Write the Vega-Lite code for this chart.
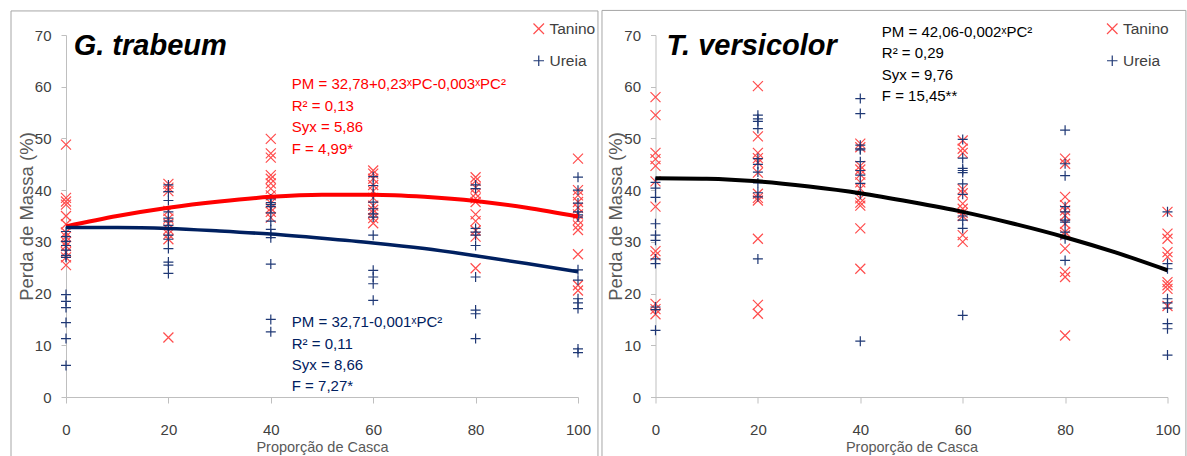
{
"$schema": "https://vega.github.io/schema/vega-lite/v6.json",
"padding": {"left": 10, "top": 9, "right": 0, "bottom": 0},
"background": "white",
"spacing": 77.5,
"bounds": "flush",
"datasets": {
"pontos": [
{"painel":"G. trabeum","pc":0,"tratamento":"Tanino","pm":48.8},{"painel":"G. trabeum","pc":0,"tratamento":"Tanino","pm":38.5},{"painel":"G. trabeum","pc":0,"tratamento":"Tanino","pm":37.8},{"painel":"G. trabeum","pc":0,"tratamento":"Tanino","pm":37.2},{"painel":"G. trabeum","pc":0,"tratamento":"Tanino","pm":35.0},{"painel":"G. trabeum","pc":0,"tratamento":"Tanino","pm":33.4},{"painel":"G. trabeum","pc":0,"tratamento":"Tanino","pm":31.8},{"painel":"G. trabeum","pc":0,"tratamento":"Tanino","pm":31.0},{"painel":"G. trabeum","pc":0,"tratamento":"Tanino","pm":30.0},{"painel":"G. trabeum","pc":0,"tratamento":"Tanino","pm":29.2},{"painel":"G. trabeum","pc":0,"tratamento":"Tanino","pm":28.0},{"painel":"G. trabeum","pc":0,"tratamento":"Tanino","pm":27.0},{"painel":"G. trabeum","pc":0,"tratamento":"Tanino","pm":25.5},
{"painel":"G. trabeum","pc":0,"tratamento":"Ureia","pm":32.0},{"painel":"G. trabeum","pc":0,"tratamento":"Ureia","pm":31.0},{"painel":"G. trabeum","pc":0,"tratamento":"Ureia","pm":30.1},{"painel":"G. trabeum","pc":0,"tratamento":"Ureia","pm":29.3},{"painel":"G. trabeum","pc":0,"tratamento":"Ureia","pm":28.4},{"painel":"G. trabeum","pc":0,"tratamento":"Ureia","pm":27.4},{"painel":"G. trabeum","pc":0,"tratamento":"Ureia","pm":27.0},{"painel":"G. trabeum","pc":0,"tratamento":"Ureia","pm":19.8},{"painel":"G. trabeum","pc":0,"tratamento":"Ureia","pm":18.5},{"painel":"G. trabeum","pc":0,"tratamento":"Ureia","pm":17.3},{"painel":"G. trabeum","pc":0,"tratamento":"Ureia","pm":14.4},{"painel":"G. trabeum","pc":0,"tratamento":"Ureia","pm":11.3},{"painel":"G. trabeum","pc":0,"tratamento":"Ureia","pm":6.1},
{"painel":"G. trabeum","pc":20,"tratamento":"Tanino","pm":41.2},{"painel":"G. trabeum","pc":20,"tratamento":"Tanino","pm":40.5},{"painel":"G. trabeum","pc":20,"tratamento":"Tanino","pm":39.8},{"painel":"G. trabeum","pc":20,"tratamento":"Tanino","pm":36.0},{"painel":"G. trabeum","pc":20,"tratamento":"Tanino","pm":34.5},{"painel":"G. trabeum","pc":20,"tratamento":"Tanino","pm":33.5},{"painel":"G. trabeum","pc":20,"tratamento":"Tanino","pm":32.4},{"painel":"G. trabeum","pc":20,"tratamento":"Tanino","pm":31.5},{"painel":"G. trabeum","pc":20,"tratamento":"Tanino","pm":30.5},{"painel":"G. trabeum","pc":20,"tratamento":"Tanino","pm":11.5},
{"painel":"G. trabeum","pc":20,"tratamento":"Ureia","pm":41.0},{"painel":"G. trabeum","pc":20,"tratamento":"Ureia","pm":39.7},{"painel":"G. trabeum","pc":20,"tratamento":"Ureia","pm":38.0},{"painel":"G. trabeum","pc":20,"tratamento":"Ureia","pm":35.8},{"painel":"G. trabeum","pc":20,"tratamento":"Ureia","pm":34.6},{"painel":"G. trabeum","pc":20,"tratamento":"Ureia","pm":34.0},{"painel":"G. trabeum","pc":20,"tratamento":"Ureia","pm":33.2},{"painel":"G. trabeum","pc":20,"tratamento":"Ureia","pm":32.6},{"painel":"G. trabeum","pc":20,"tratamento":"Ureia","pm":31.3},{"painel":"G. trabeum","pc":20,"tratamento":"Ureia","pm":30.5},{"painel":"G. trabeum","pc":20,"tratamento":"Ureia","pm":28.7},{"painel":"G. trabeum","pc":20,"tratamento":"Ureia","pm":26.1},{"painel":"G. trabeum","pc":20,"tratamento":"Ureia","pm":25.5},{"painel":"G. trabeum","pc":20,"tratamento":"Ureia","pm":23.9},
{"painel":"G. trabeum","pc":40,"tratamento":"Tanino","pm":49.9},{"painel":"G. trabeum","pc":40,"tratamento":"Tanino","pm":47.1},{"painel":"G. trabeum","pc":40,"tratamento":"Tanino","pm":46.3},{"painel":"G. trabeum","pc":40,"tratamento":"Tanino","pm":42.9},{"painel":"G. trabeum","pc":40,"tratamento":"Tanino","pm":42.2},{"painel":"G. trabeum","pc":40,"tratamento":"Tanino","pm":41.3},{"painel":"G. trabeum","pc":40,"tratamento":"Tanino","pm":40.3},{"painel":"G. trabeum","pc":40,"tratamento":"Tanino","pm":39.0},{"painel":"G. trabeum","pc":40,"tratamento":"Tanino","pm":37.5},{"painel":"G. trabeum","pc":40,"tratamento":"Tanino","pm":36.5},{"painel":"G. trabeum","pc":40,"tratamento":"Tanino","pm":35.8},{"painel":"G. trabeum","pc":40,"tratamento":"Tanino","pm":34.7},
{"painel":"G. trabeum","pc":40,"tratamento":"Ureia","pm":38.3},{"painel":"G. trabeum","pc":40,"tratamento":"Ureia","pm":37.6},{"painel":"G. trabeum","pc":40,"tratamento":"Ureia","pm":37.2},{"painel":"G. trabeum","pc":40,"tratamento":"Ureia","pm":36.8},{"painel":"G. trabeum","pc":40,"tratamento":"Ureia","pm":35.6},{"painel":"G. trabeum","pc":40,"tratamento":"Ureia","pm":34.0},{"painel":"G. trabeum","pc":40,"tratamento":"Ureia","pm":32.4},{"painel":"G. trabeum","pc":40,"tratamento":"Ureia","pm":31.5},{"painel":"G. trabeum","pc":40,"tratamento":"Ureia","pm":30.8},{"painel":"G. trabeum","pc":40,"tratamento":"Ureia","pm":25.7},{"painel":"G. trabeum","pc":40,"tratamento":"Ureia","pm":15.0},{"painel":"G. trabeum","pc":40,"tratamento":"Ureia","pm":12.6},
{"painel":"G. trabeum","pc":60,"tratamento":"Tanino","pm":43.8},{"painel":"G. trabeum","pc":60,"tratamento":"Tanino","pm":43.2},{"painel":"G. trabeum","pc":60,"tratamento":"Tanino","pm":42.2},{"painel":"G. trabeum","pc":60,"tratamento":"Tanino","pm":41.0},{"painel":"G. trabeum","pc":60,"tratamento":"Tanino","pm":39.8},{"painel":"G. trabeum","pc":60,"tratamento":"Tanino","pm":38.5},{"painel":"G. trabeum","pc":60,"tratamento":"Tanino","pm":37.0},{"painel":"G. trabeum","pc":60,"tratamento":"Tanino","pm":36.2},{"painel":"G. trabeum","pc":60,"tratamento":"Tanino","pm":35.6},{"painel":"G. trabeum","pc":60,"tratamento":"Tanino","pm":34.6},{"painel":"G. trabeum","pc":60,"tratamento":"Tanino","pm":33.6},
{"painel":"G. trabeum","pc":60,"tratamento":"Ureia","pm":42.6},{"painel":"G. trabeum","pc":60,"tratamento":"Ureia","pm":40.9},{"painel":"G. trabeum","pc":60,"tratamento":"Ureia","pm":39.3},{"painel":"G. trabeum","pc":60,"tratamento":"Ureia","pm":37.7},{"painel":"G. trabeum","pc":60,"tratamento":"Ureia","pm":36.4},{"painel":"G. trabeum","pc":60,"tratamento":"Ureia","pm":35.4},{"painel":"G. trabeum","pc":60,"tratamento":"Ureia","pm":34.8},{"painel":"G. trabeum","pc":60,"tratamento":"Ureia","pm":31.3},{"painel":"G. trabeum","pc":60,"tratamento":"Ureia","pm":24.5},{"painel":"G. trabeum","pc":60,"tratamento":"Ureia","pm":23.2},{"painel":"G. trabeum","pc":60,"tratamento":"Ureia","pm":21.9},{"painel":"G. trabeum","pc":60,"tratamento":"Ureia","pm":18.7},
{"painel":"G. trabeum","pc":80,"tratamento":"Tanino","pm":42.5},{"painel":"G. trabeum","pc":80,"tratamento":"Tanino","pm":41.8},{"painel":"G. trabeum","pc":80,"tratamento":"Tanino","pm":40.5},{"painel":"G. trabeum","pc":80,"tratamento":"Tanino","pm":39.3},{"painel":"G. trabeum","pc":80,"tratamento":"Tanino","pm":38.4},{"painel":"G. trabeum","pc":80,"tratamento":"Tanino","pm":37.7},{"painel":"G. trabeum","pc":80,"tratamento":"Tanino","pm":35.3},{"painel":"G. trabeum","pc":80,"tratamento":"Tanino","pm":34.0},{"painel":"G. trabeum","pc":80,"tratamento":"Tanino","pm":32.2},{"painel":"G. trabeum","pc":80,"tratamento":"Tanino","pm":31.0},{"painel":"G. trabeum","pc":80,"tratamento":"Tanino","pm":24.9},
{"painel":"G. trabeum","pc":80,"tratamento":"Ureia","pm":41.0},{"painel":"G. trabeum","pc":80,"tratamento":"Ureia","pm":40.3},{"painel":"G. trabeum","pc":80,"tratamento":"Ureia","pm":32.6},{"painel":"G. trabeum","pc":80,"tratamento":"Ureia","pm":31.9},{"painel":"G. trabeum","pc":80,"tratamento":"Ureia","pm":31.3},{"painel":"G. trabeum","pc":80,"tratamento":"Ureia","pm":29.3},{"painel":"G. trabeum","pc":80,"tratamento":"Ureia","pm":23.2},{"painel":"G. trabeum","pc":80,"tratamento":"Ureia","pm":16.8},{"painel":"G. trabeum","pc":80,"tratamento":"Ureia","pm":16.1},{"painel":"G. trabeum","pc":80,"tratamento":"Ureia","pm":11.3},
{"painel":"G. trabeum","pc":100,"tratamento":"Tanino","pm":46.1},{"painel":"G. trabeum","pc":100,"tratamento":"Tanino","pm":40.0},{"painel":"G. trabeum","pc":100,"tratamento":"Tanino","pm":39.0},{"painel":"G. trabeum","pc":100,"tratamento":"Tanino","pm":37.7},{"painel":"G. trabeum","pc":100,"tratamento":"Tanino","pm":36.6},{"painel":"G. trabeum","pc":100,"tratamento":"Tanino","pm":35.3},{"painel":"G. trabeum","pc":100,"tratamento":"Tanino","pm":34.2},{"painel":"G. trabeum","pc":100,"tratamento":"Tanino","pm":33.2},{"painel":"G. trabeum","pc":100,"tratamento":"Tanino","pm":32.3},{"painel":"G. trabeum","pc":100,"tratamento":"Tanino","pm":27.6},{"painel":"G. trabeum","pc":100,"tratamento":"Tanino","pm":21.6},{"painel":"G. trabeum","pc":100,"tratamento":"Tanino","pm":20.6},
{"painel":"G. trabeum","pc":100,"tratamento":"Ureia","pm":42.5},{"painel":"G. trabeum","pc":100,"tratamento":"Ureia","pm":40.0},{"painel":"G. trabeum","pc":100,"tratamento":"Ureia","pm":37.5},{"painel":"G. trabeum","pc":100,"tratamento":"Ureia","pm":35.8},{"painel":"G. trabeum","pc":100,"tratamento":"Ureia","pm":35.2},{"painel":"G. trabeum","pc":100,"tratamento":"Ureia","pm":34.8},{"painel":"G. trabeum","pc":100,"tratamento":"Ureia","pm":24.6},{"painel":"G. trabeum","pc":100,"tratamento":"Ureia","pm":22.6},{"painel":"G. trabeum","pc":100,"tratamento":"Ureia","pm":19.0},{"painel":"G. trabeum","pc":100,"tratamento":"Ureia","pm":18.2},{"painel":"G. trabeum","pc":100,"tratamento":"Ureia","pm":17.1},{"painel":"G. trabeum","pc":100,"tratamento":"Ureia","pm":9.3},{"painel":"G. trabeum","pc":100,"tratamento":"Ureia","pm":8.6},
{"painel":"T. versicolor","pc":0,"tratamento":"Tanino","pm":58.0},{"painel":"T. versicolor","pc":0,"tratamento":"Tanino","pm":54.5},{"painel":"T. versicolor","pc":0,"tratamento":"Tanino","pm":47.2},{"painel":"T. versicolor","pc":0,"tratamento":"Tanino","pm":46.0},{"painel":"T. versicolor","pc":0,"tratamento":"Tanino","pm":44.7},{"painel":"T. versicolor","pc":0,"tratamento":"Tanino","pm":41.7},{"painel":"T. versicolor","pc":0,"tratamento":"Tanino","pm":36.8},{"painel":"T. versicolor","pc":0,"tratamento":"Tanino","pm":28.2},{"painel":"T. versicolor","pc":0,"tratamento":"Tanino","pm":27.4},{"painel":"T. versicolor","pc":0,"tratamento":"Tanino","pm":18.0},{"painel":"T. versicolor","pc":0,"tratamento":"Tanino","pm":17.0},{"painel":"T. versicolor","pc":0,"tratamento":"Tanino","pm":16.0},
{"painel":"T. versicolor","pc":0,"tratamento":"Ureia","pm":41.5},{"painel":"T. versicolor","pc":0,"tratamento":"Ureia","pm":40.4},{"painel":"T. versicolor","pc":0,"tratamento":"Ureia","pm":38.6},{"painel":"T. versicolor","pc":0,"tratamento":"Ureia","pm":33.5},{"painel":"T. versicolor","pc":0,"tratamento":"Ureia","pm":31.3},{"painel":"T. versicolor","pc":0,"tratamento":"Ureia","pm":30.3},{"painel":"T. versicolor","pc":0,"tratamento":"Ureia","pm":26.7},{"painel":"T. versicolor","pc":0,"tratamento":"Ureia","pm":25.8},{"painel":"T. versicolor","pc":0,"tratamento":"Ureia","pm":17.4},{"painel":"T. versicolor","pc":0,"tratamento":"Ureia","pm":16.9},{"painel":"T. versicolor","pc":0,"tratamento":"Ureia","pm":12.9},
{"painel":"T. versicolor","pc":20,"tratamento":"Tanino","pm":60.1},{"painel":"T. versicolor","pc":20,"tratamento":"Tanino","pm":50.4},{"painel":"T. versicolor","pc":20,"tratamento":"Tanino","pm":47.2},{"painel":"T. versicolor","pc":20,"tratamento":"Tanino","pm":46.2},{"painel":"T. versicolor","pc":20,"tratamento":"Tanino","pm":45.3},{"painel":"T. versicolor","pc":20,"tratamento":"Tanino","pm":43.4},{"painel":"T. versicolor","pc":20,"tratamento":"Tanino","pm":39.3},{"painel":"T. versicolor","pc":20,"tratamento":"Tanino","pm":38.5},{"painel":"T. versicolor","pc":20,"tratamento":"Tanino","pm":38.0},{"painel":"T. versicolor","pc":20,"tratamento":"Tanino","pm":30.6},{"painel":"T. versicolor","pc":20,"tratamento":"Tanino","pm":17.8},{"painel":"T. versicolor","pc":20,"tratamento":"Tanino","pm":16.1},
{"painel":"T. versicolor","pc":20,"tratamento":"Ureia","pm":54.5},{"painel":"T. versicolor","pc":20,"tratamento":"Ureia","pm":53.8},{"painel":"T. versicolor","pc":20,"tratamento":"Ureia","pm":53.3},{"painel":"T. versicolor","pc":20,"tratamento":"Ureia","pm":51.9},{"painel":"T. versicolor","pc":20,"tratamento":"Ureia","pm":46.1},{"painel":"T. versicolor","pc":20,"tratamento":"Ureia","pm":45.0},{"painel":"T. versicolor","pc":20,"tratamento":"Ureia","pm":43.5},{"painel":"T. versicolor","pc":20,"tratamento":"Ureia","pm":41.4},{"painel":"T. versicolor","pc":20,"tratamento":"Ureia","pm":39.5},{"painel":"T. versicolor","pc":20,"tratamento":"Ureia","pm":38.7},{"painel":"T. versicolor","pc":20,"tratamento":"Ureia","pm":26.7},
{"painel":"T. versicolor","pc":40,"tratamento":"Tanino","pm":49.0},{"painel":"T. versicolor","pc":40,"tratamento":"Tanino","pm":48.3},{"painel":"T. versicolor","pc":40,"tratamento":"Tanino","pm":44.7},{"painel":"T. versicolor","pc":40,"tratamento":"Tanino","pm":44.0},{"painel":"T. versicolor","pc":40,"tratamento":"Tanino","pm":43.0},{"painel":"T. versicolor","pc":40,"tratamento":"Tanino","pm":41.5},{"painel":"T. versicolor","pc":40,"tratamento":"Tanino","pm":40.3},{"painel":"T. versicolor","pc":40,"tratamento":"Tanino","pm":38.4},{"painel":"T. versicolor","pc":40,"tratamento":"Tanino","pm":37.6},{"painel":"T. versicolor","pc":40,"tratamento":"Tanino","pm":37.0},{"painel":"T. versicolor","pc":40,"tratamento":"Tanino","pm":32.6},{"painel":"T. versicolor","pc":40,"tratamento":"Tanino","pm":24.8},
{"painel":"T. versicolor","pc":40,"tratamento":"Ureia","pm":57.7},{"painel":"T. versicolor","pc":40,"tratamento":"Ureia","pm":54.8},{"painel":"T. versicolor","pc":40,"tratamento":"Ureia","pm":48.7},{"painel":"T. versicolor","pc":40,"tratamento":"Ureia","pm":48.0},{"painel":"T. versicolor","pc":40,"tratamento":"Ureia","pm":47.8},{"painel":"T. versicolor","pc":40,"tratamento":"Ureia","pm":45.5},{"painel":"T. versicolor","pc":40,"tratamento":"Ureia","pm":43.8},{"painel":"T. versicolor","pc":40,"tratamento":"Ureia","pm":42.9},{"painel":"T. versicolor","pc":40,"tratamento":"Ureia","pm":41.3},{"painel":"T. versicolor","pc":40,"tratamento":"Ureia","pm":39.2},{"painel":"T. versicolor","pc":40,"tratamento":"Ureia","pm":10.8},
{"painel":"T. versicolor","pc":60,"tratamento":"Tanino","pm":49.6},{"painel":"T. versicolor","pc":60,"tratamento":"Tanino","pm":48.0},{"painel":"T. versicolor","pc":60,"tratamento":"Tanino","pm":47.2},{"painel":"T. versicolor","pc":60,"tratamento":"Tanino","pm":40.2},{"painel":"T. versicolor","pc":60,"tratamento":"Tanino","pm":39.4},{"painel":"T. versicolor","pc":60,"tratamento":"Tanino","pm":37.4},{"painel":"T. versicolor","pc":60,"tratamento":"Tanino","pm":36.4},{"painel":"T. versicolor","pc":60,"tratamento":"Tanino","pm":35.6},{"painel":"T. versicolor","pc":60,"tratamento":"Tanino","pm":35.0},{"painel":"T. versicolor","pc":60,"tratamento":"Tanino","pm":31.3},{"painel":"T. versicolor","pc":60,"tratamento":"Tanino","pm":30.0},
{"painel":"T. versicolor","pc":60,"tratamento":"Ureia","pm":49.8},{"painel":"T. versicolor","pc":60,"tratamento":"Ureia","pm":46.2},{"painel":"T. versicolor","pc":60,"tratamento":"Ureia","pm":44.2},{"painel":"T. versicolor","pc":60,"tratamento":"Ureia","pm":43.8},{"painel":"T. versicolor","pc":60,"tratamento":"Ureia","pm":43.4},{"painel":"T. versicolor","pc":60,"tratamento":"Ureia","pm":41.2},{"painel":"T. versicolor","pc":60,"tratamento":"Ureia","pm":39.2},{"painel":"T. versicolor","pc":60,"tratamento":"Ureia","pm":35.0},{"painel":"T. versicolor","pc":60,"tratamento":"Ureia","pm":34.2},{"painel":"T. versicolor","pc":60,"tratamento":"Ureia","pm":32.6},{"painel":"T. versicolor","pc":60,"tratamento":"Ureia","pm":15.8},
{"painel":"T. versicolor","pc":80,"tratamento":"Tanino","pm":46.1},{"painel":"T. versicolor","pc":80,"tratamento":"Tanino","pm":45.1},{"painel":"T. versicolor","pc":80,"tratamento":"Tanino","pm":38.7},{"painel":"T. versicolor","pc":80,"tratamento":"Tanino","pm":37.1},{"painel":"T. versicolor","pc":80,"tratamento":"Tanino","pm":36.1},{"painel":"T. versicolor","pc":80,"tratamento":"Tanino","pm":35.1},{"painel":"T. versicolor","pc":80,"tratamento":"Tanino","pm":33.5},{"painel":"T. versicolor","pc":80,"tratamento":"Tanino","pm":31.9},{"painel":"T. versicolor","pc":80,"tratamento":"Tanino","pm":31.3},{"painel":"T. versicolor","pc":80,"tratamento":"Tanino","pm":28.7},{"painel":"T. versicolor","pc":80,"tratamento":"Tanino","pm":24.2},{"painel":"T. versicolor","pc":80,"tratamento":"Tanino","pm":23.2},{"painel":"T. versicolor","pc":80,"tratamento":"Tanino","pm":11.9},
{"painel":"T. versicolor","pc":80,"tratamento":"Ureia","pm":51.6},{"painel":"T. versicolor","pc":80,"tratamento":"Ureia","pm":45.1},{"painel":"T. versicolor","pc":80,"tratamento":"Ureia","pm":42.8},{"painel":"T. versicolor","pc":80,"tratamento":"Ureia","pm":36.8},{"painel":"T. versicolor","pc":80,"tratamento":"Ureia","pm":35.8},{"painel":"T. versicolor","pc":80,"tratamento":"Ureia","pm":34.2},{"painel":"T. versicolor","pc":80,"tratamento":"Ureia","pm":33.8},{"painel":"T. versicolor","pc":80,"tratamento":"Ureia","pm":31.9},{"painel":"T. versicolor","pc":80,"tratamento":"Ureia","pm":30.6},{"painel":"T. versicolor","pc":80,"tratamento":"Ureia","pm":26.4},
{"painel":"T. versicolor","pc":100,"tratamento":"Tanino","pm":35.8},{"painel":"T. versicolor","pc":100,"tratamento":"Tanino","pm":31.6},{"painel":"T. versicolor","pc":100,"tratamento":"Tanino","pm":30.6},{"painel":"T. versicolor","pc":100,"tratamento":"Tanino","pm":28.0},{"painel":"T. versicolor","pc":100,"tratamento":"Tanino","pm":27.1},{"painel":"T. versicolor","pc":100,"tratamento":"Tanino","pm":22.2},{"painel":"T. versicolor","pc":100,"tratamento":"Tanino","pm":21.6},{"painel":"T. versicolor","pc":100,"tratamento":"Tanino","pm":20.9},{"painel":"T. versicolor","pc":100,"tratamento":"Tanino","pm":17.6},
{"painel":"T. versicolor","pc":100,"tratamento":"Ureia","pm":35.8},{"painel":"T. versicolor","pc":100,"tratamento":"Ureia","pm":25.8},{"painel":"T. versicolor","pc":100,"tratamento":"Ureia","pm":24.8},{"painel":"T. versicolor","pc":100,"tratamento":"Ureia","pm":19.0},{"painel":"T. versicolor","pc":100,"tratamento":"Ureia","pm":18.2},{"painel":"T. versicolor","pc":100,"tratamento":"Ureia","pm":17.2},{"painel":"T. versicolor","pc":100,"tratamento":"Ureia","pm":14.2},{"painel":"T. versicolor","pc":100,"tratamento":"Ureia","pm":13.2},{"painel":"T. versicolor","pc":100,"tratamento":"Ureia","pm":8.1}
],
"curvas": [
{"curva":"G-Tanino","pc":0,"pm":33.0},{"curva":"G-Tanino","pc":10,"pm":35.0},{"curva":"G-Tanino","pc":20,"pm":36.6},{"curva":"G-Tanino","pc":30,"pm":37.8},{"curva":"G-Tanino","pc":40,"pm":38.7},{"curva":"G-Tanino","pc":50,"pm":39.1},{"curva":"G-Tanino","pc":60,"pm":39.1},{"curva":"G-Tanino","pc":70,"pm":38.7},{"curva":"G-Tanino","pc":80,"pm":37.9},{"curva":"G-Tanino","pc":90,"pm":36.6},{"curva":"G-Tanino","pc":100,"pm":34.9},
{"curva":"G-Ureia","pc":0,"pm":32.8},{"curva":"G-Ureia","pc":10,"pm":32.8},{"curva":"G-Ureia","pc":20,"pm":32.6},{"curva":"G-Ureia","pc":30,"pm":32.1},{"curva":"G-Ureia","pc":40,"pm":31.5},{"curva":"G-Ureia","pc":50,"pm":30.7},{"curva":"G-Ureia","pc":60,"pm":29.8},{"curva":"G-Ureia","pc":70,"pm":28.7},{"curva":"G-Ureia","pc":80,"pm":27.3},{"curva":"G-Ureia","pc":90,"pm":25.8},{"curva":"G-Ureia","pc":100,"pm":24.2},
{"curva":"T-Geral","pc":0,"pm":42.3},{"curva":"T-Geral","pc":10,"pm":42.2},{"curva":"T-Geral","pc":20,"pm":41.7},{"curva":"T-Geral","pc":30,"pm":40.7},{"curva":"T-Geral","pc":40,"pm":39.4},{"curva":"T-Geral","pc":50,"pm":37.7},{"curva":"T-Geral","pc":60,"pm":35.8},{"curva":"T-Geral","pc":70,"pm":33.5},{"curva":"T-Geral","pc":80,"pm":30.9},{"curva":"T-Geral","pc":90,"pm":27.9},{"curva":"T-Geral","pc":100,"pm":24.5}
]
},
"resolve": {"scale": {"color": "independent", "shape": "independent", "x": "independent", "y": "independent"}},
"hconcat": [
{
"width": 512, "height": 362,
"layer": [
{"data": {"values": [{}]}, "mark": {"type": "rect", "fill": "transparent", "stroke": "#a6a6a6", "strokeWidth": 1}, "encoding": {"x": {"datum": -10.74, "type": "quantitative"}, "x2": {"datum": 103.9}, "y": {"datum": 74.65, "type": "quantitative"}, "y2": {"datum": -12.6}}},
{"data": {"name": "pontos"}, "transform": [{"filter": "datum.painel === 'G. trabeum'"}],
 "mark": {"type": "point", "filled": false, "size": 100, "strokeWidth": 1.2, "opacity": 1},
 "encoding": {
  "x": {"field": "pc", "type": "quantitative", "scale": {"domain": [0, 100], "nice": false, "zero": false}, "axis": {"values": [0, 20, 40, 60, 80, 100], "title": "Proporção de Casca"}},
  "y": {"field": "pm", "type": "quantitative", "scale": {"domain": [0, 70], "nice": false}, "axis": {"values": [0, 10, 20, 30, 40, 50, 60, 70], "title": "Perda de Massa (%)"}},
  "color": {"field": "tratamento", "type": "nominal", "scale": {"domain": ["Tanino", "Ureia"], "range": ["#ff4d4d", "#1f3875"]}, "legend": {"orient": "none", "legendX": 465, "legendY": -14, "title": null}},
  "shape": {"field": "tratamento", "type": "nominal", "scale": {"domain": ["Tanino", "Ureia"], "range": ["M-1,-1L1,1M1,-1L-1,1", "M-1,0L1,0M0,-1L0,1"]}, "legend": {"orient": "none", "legendX": 465, "legendY": -14, "title": null}}
 }},
{"data": {"name": "curvas"}, "transform": [{"filter": "datum.curva === 'G-Tanino'"}], "mark": {"type": "line", "color": "#ff0000", "strokeWidth": 4, "interpolate": "monotone"}, "encoding": {"x": {"field": "pc", "type": "quantitative"}, "y": {"field": "pm", "type": "quantitative"}}},
{"data": {"name": "curvas"}, "transform": [{"filter": "datum.curva === 'G-Ureia'"}], "mark": {"type": "line", "color": "#002060", "strokeWidth": 3.5, "interpolate": "monotone"}, "encoding": {"x": {"field": "pc", "type": "quantitative"}, "y": {"field": "pm", "type": "quantitative"}}},
{"data": {"values": [{}]}, "mark": {"type": "text", "text": "G. trabeum", "font": "Liberation Sans, sans-serif", "fontSize": 29, "fontWeight": "bold", "fontStyle": "italic", "color": "#000000", "align": "left", "baseline": "alphabetic"}, "encoding": {"x": {"datum": 1.5, "type": "quantitative"}, "y": {"datum": 66.1, "type": "quantitative"}}},
{"data": {"values": [{}]}, "mark": {"type": "text", "text": ["PM = 32,78+0,23ˣPC-0,003ˣPC²", "R² = 0,13", "Syx = 5,86", "F = 4,99*"], "font": "Liberation Sans, sans-serif", "fontSize": 15, "lineHeight": 21.7, "color": "#ff0000", "align": "left", "baseline": "alphabetic"}, "encoding": {"x": {"datum": 44.1, "type": "quantitative"}, "y": {"datum": 59.54, "type": "quantitative"}}},
{"data": {"values": [{}]}, "mark": {"type": "text", "text": ["PM = 32,71-0,001ˣPC²", "R² = 0,11", "Syx = 8,66", "F = 7,27*"], "font": "Liberation Sans, sans-serif", "fontSize": 15, "lineHeight": 21.3, "color": "#002060", "align": "left", "baseline": "alphabetic"}, "encoding": {"x": {"datum": 44.1, "type": "quantitative"}, "y": {"datum": 13.47, "type": "quantitative"}}}
]
},
{
"width": 512, "height": 362,
"layer": [
{"data": {"values": [{}]}, "mark": {"type": "rect", "fill": "transparent", "stroke": "#a6a6a6", "strokeWidth": 1}, "encoding": {"x": {"datum": -10.45, "type": "quantitative"}, "x2": {"datum": 103.6}, "y": {"datum": 74.75, "type": "quantitative"}, "y2": {"datum": -12.6}}},
{"data": {"name": "pontos"}, "transform": [{"filter": "datum.painel === 'T. versicolor'"}],
 "mark": {"type": "point", "filled": false, "size": 100, "strokeWidth": 1.2, "opacity": 1},
 "encoding": {
  "x": {"field": "pc", "type": "quantitative", "scale": {"domain": [0, 100], "nice": false, "zero": false}, "axis": {"values": [0, 20, 40, 60, 80, 100], "title": "Proporção de Casca"}},
  "y": {"field": "pm", "type": "quantitative", "scale": {"domain": [0, 70], "nice": false}, "axis": {"values": [0, 10, 20, 30, 40, 50, 60, 70], "title": "Perda de Massa (%)"}},
  "color": {"field": "tratamento", "type": "nominal", "scale": {"domain": ["Tanino", "Ureia"], "range": ["#ff4d4d", "#1f3875"]}, "legend": {"orient": "none", "legendX": 449, "legendY": -14, "title": null}},
  "shape": {"field": "tratamento", "type": "nominal", "scale": {"domain": ["Tanino", "Ureia"], "range": ["M-1,-1L1,1M1,-1L-1,1", "M-1,0L1,0M0,-1L0,1"]}, "legend": {"orient": "none", "legendX": 449, "legendY": -14, "title": null}}
 }},
{"data": {"name": "curvas"}, "transform": [{"filter": "datum.curva === 'T-Geral'"}], "mark": {"type": "line", "color": "#000000", "strokeWidth": 4, "interpolate": "monotone"}, "encoding": {"x": {"field": "pc", "type": "quantitative"}, "y": {"field": "pm", "type": "quantitative"}}},
{"data": {"values": [{}]}, "mark": {"type": "text", "text": "T. versicolor", "font": "Liberation Sans, sans-serif", "fontSize": 29, "fontWeight": "bold", "fontStyle": "italic", "color": "#000000", "align": "left", "baseline": "alphabetic"}, "encoding": {"x": {"datum": 2.15, "type": "quantitative"}, "y": {"datum": 66.1, "type": "quantitative"}}},
{"data": {"values": [{}]}, "mark": {"type": "text", "text": ["PM = 42,06-0,002ˣPC²", "R² = 0,29", "Syx = 9,76", "F = 15,45**"], "font": "Liberation Sans, sans-serif", "fontSize": 15, "lineHeight": 21.1, "color": "#000000", "align": "left", "baseline": "alphabetic"}, "encoding": {"x": {"datum": 44.2, "type": "quantitative"}, "y": {"datum": 69.55, "type": "quantitative"}}}
]
}
],
"config": {
"font": "Liberation Sans, sans-serif",
"view": {"stroke": null},
"axis": {"labelFont": "Liberation Sans, sans-serif", "labelFontSize": 15, "labelColor": "#404040", "titleFont": "Liberation Sans, sans-serif", "titleFontSize": 14.5, "titleFontWeight": "normal", "titleColor": "#595959", "domainColor": "#bfbfbf", "tickColor": "#bfbfbf", "grid": false, "labelFlush": false, "labelOverlap": false},
"axisX": {"tickSize": 6, "labelPadding": 19, "titlePadding": 3.5, "labelAngle": 0},
"axisY": {"tickSize": 5, "labelPadding": 10, "titlePadding": -2, "titleFontSize": 18.5},
"legend": {"labelFont": "Liberation Sans, sans-serif", "labelFontSize": 15.5, "labelColor": "#404040", "symbolSize": 110, "symbolStrokeWidth": 1.2, "rowPadding": 15, "labelOffset": 3, "padding": 0}
}
}
